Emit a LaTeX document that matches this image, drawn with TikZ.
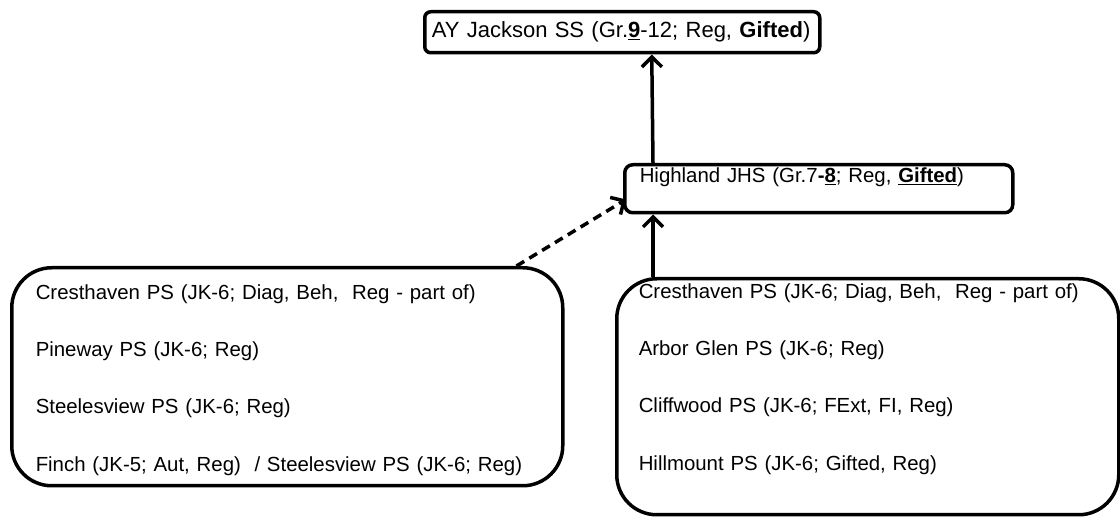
\documentclass[tikz,border=0pt]{standalone}
\usepackage{fontspec}
\setmainfont{Liberation Sans}
\usetikzlibrary{arrows.meta,calc}

\tikzset{
  school/.style={draw, line width=3.5pt, anchor=north west, align=left, inner ysep=0pt,
    font=\fontsize{20.4}{57.3}\selectfont},
  link/.style={line width=3.5pt, -{Straight Barb[length=10pt,width=20pt]}}
}

\begin{document}
\begin{tikzpicture}[x=1pt,y=-1pt]
\useasboundingbox (0,0) rectangle (1120,518);
% schools
\node[school, rounded corners=6pt, inner xsep=7pt, text width=381pt, minimum height=41pt,
  font=\fontsize{22}{26}\selectfont] (ayj) at (423,10)
  {AY Jackson SS (Gr.\underline{\textbf{9}}-12; Reg, \textbf{Gifted})};
\node[school, rounded corners=8pt, inner xsep=15pt, text width=358pt,
  text height=18pt, text depth=30pt] (hl) at (623,163)
  {Highland JHS (Gr.7\textbf{-\underline{8}}; Reg, \underline{\textbf{Gifted}})};
\node[school, rounded corners=40pt, inner xsep=24pt, text width=503pt,
  text height=31.5pt, text depth=186.5pt] (west) at (10,266)
  {Cresthaven PS (JK-6; Diag, Beh,\ \ Reg - part of)\\
   Pineway PS (JK-6; Reg)\\
   Steelesview PS (JK-6; Reg)\\
   Finch (JK-5; Aut, Reg)\ \ / Steelesview PS (JK-6; Reg)};
\node[school, rounded corners=40pt, inner xsep=22pt, text width=458pt,
  text height=19.5pt, text depth=216.5pt] (east) at (615,277)
  {Cresthaven PS (JK-6; Diag, Beh,\ \ Reg - part of)\\
   Arbor Glen PS (JK-6; Reg)\\
   Cliffwood PS (JK-6; FExt, FI, Reg)\\
   Hillmount PS (JK-6; Gifted, Reg)};
% feeders
\draw[link] ($(hl.north west)+(30,0)$) -- ($(ayj.south)+(29.5,0)$);
\draw[link, dash pattern=on 9pt off 6pt] ($(west.north east)+(-48,0)$) -- ($(hl.south west)+(3,-15)$);
\draw[link] ($(east.north west)+(38,0)$) -- ($(hl.south west)+(30,0)$);
\end{tikzpicture}
\end{document}
